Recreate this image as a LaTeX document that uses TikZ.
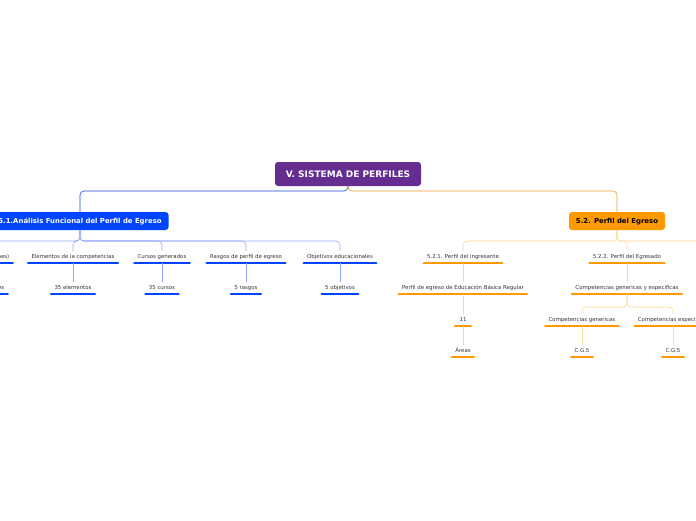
\documentclass[tikz,border=0pt]{standalone}
\usepackage{fontspec}
\setmainfont{DejaVu Sans}
\definecolor{rootpurple}{HTML}{662D91}
\definecolor{mainblue}{HTML}{0044FF}
\definecolor{lightblue}{HTML}{93A9FF}
\definecolor{darkblue}{HTML}{1F45D6}
\definecolor{mainorange}{HTML}{FF9900}
\definecolor{lightorange}{HTML}{FFD596}
\definecolor{darkorange}{HTML}{EE9F38}
\tikzset{
  topic/.style={rounded corners=3pt, inner sep=0pt, text height=5pt, text depth=0pt,
    font=\fontsize{6.9}{7.5}\selectfont\bfseries},
  leaf/.style={inner xsep=4.5pt, inner ysep=3pt, text height=4pt, text depth=1.5pt,
    minimum width=18pt, font=\fontsize{5.4}{6}\selectfont, text=black!80,
    append after command={(\tikzlastnode.south west) edge[draw=#1, line width=2.4pt,
      line cap=round, shorten <=1.2pt, shorten >=1.2pt] (\tikzlastnode.south east)}},
  link/.style={draw=#1, line width=0.6pt, rounded corners=4pt}
}
\begin{document}
\begin{tikzpicture}[x=1pt, y=-1pt]
  \useasboundingbox (0,0) rectangle (696,520);
  % root and main branches
  \node[topic, fill=rootpurple, text=white, minimum width=146pt, minimum height=24pt,
    text height=6.6pt, font=\fontsize{9}{10}\selectfont\bfseries] (root) at (348,174) {V. SISTEMA DE PERFILES};
  \node[topic, fill=mainblue, text=white, minimum width=177pt, minimum height=18pt] (fa) at (80,221)
    {5.1.Análisis Funcional del Perfil de Egreso};
  \node[topic, fill=mainorange, text=black, minimum width=96pt, minimum height=18pt] (pe) at (617,221)
    {5.2. Perfil del Egreso};
  \draw[link=darkblue] (root.south) -- (348,191) -| (fa.north);
  \draw[link=darkorange] (root.south) -- (348,191) -| (pe.north);

  % 5.1
  \node[leaf=mainblue, anchor=east] (fa0) at (14,257) {Mapa de competencias (funciones)};
  \node[leaf=mainblue] (fa1) at (73,257) {Elementos de la competencias};
  \node[leaf=mainblue] (fa2) at (162,257) {Cursos generados};
  \node[leaf=mainblue] (fa3) at (246,257) {Rasgos de perfil de egreso};
  \node[leaf=mainblue] (fa4) at (340,257) {Objetivos educacionales};
  \node[leaf=mainblue, anchor=east] (na0) at (9,288) {12 funciones};
  \node[leaf=mainblue] (na1) at (73,288) {35 elementos};
  \node[leaf=mainblue] (na2) at (162,288) {35 cursos};
  \node[leaf=mainblue] (na3) at (246,288) {5 rasgos};
  \node[leaf=mainblue] (na4) at (340,288) {5 objetivos};
  \foreach \i in {0,...,4}{
    \draw[link=lightblue] (fa.south) -- (80,241) -| (fa\i.north);
    \draw[link=lightblue] (fa\i.south) -- (fa\i.south |- na\i.north);
  }

  % 5.2
  \coordinate (pe3) at (780,252);
  \node[leaf=mainorange] (pe1) at (463,257) {5.2.1. Perfil del ingresante};
  \node[leaf=mainorange] (pe2) at (627,257) {5.2.2. Perfil del Egresado};
  \foreach \i in {1,2,3}
    \draw[link=lightorange] (pe.south) -- (617,241) -| (pe\i);
  \node[leaf=mainorange] (eb) at (463,288) {Perfil de egreso de Educación Básica Regular};
  \node[leaf=mainorange] (ar) at (463,320) {11};
  \node[leaf=mainorange] (ar1) at (463,351) {Áreas};
  \node[leaf=mainorange] (ce) at (627,288) {Competencias genericas y especificas};
  \node[leaf=mainorange] (cg) at (582,320) {Competencias genericas};
  \node[leaf=mainorange] (cs) at (673,320) {Competencias especificas};
  \node[leaf=mainorange] (cg1) at (582,351) {C.G.5};
  \node[leaf=mainorange] (cs1) at (673,351) {C.G.5};
  \draw[link=lightorange] (pe1.south) -- (eb.north);
  \draw[link=lightorange] (eb.south) -- (ar.north);
  \draw[link=lightorange] (ar.south) -- (ar1.north);
  \draw[link=lightorange] (pe2.south) -- (ce.north);
  \draw[link=lightorange] (ce.south) -- (627,307) -| (cg.north);
  \draw[link=lightorange] (ce.south) -- (627,307) -| (cs.north);
  \draw[link=lightorange] (cg.south) -- (cg1.north);
  \draw[link=lightorange] (cs.south) -- (cs1.north);
\end{tikzpicture}
\end{document}
